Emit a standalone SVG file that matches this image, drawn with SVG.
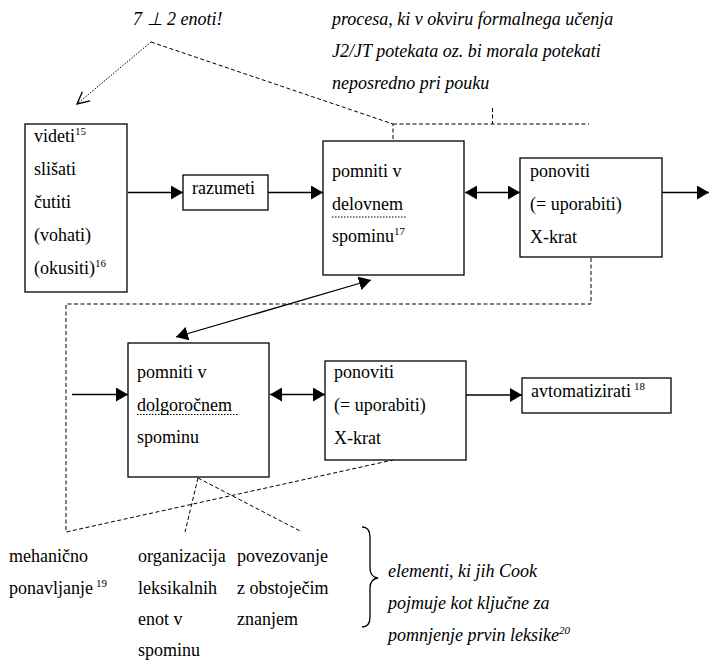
<svg xmlns="http://www.w3.org/2000/svg" width="709" height="663" viewBox="0 0 709 663" font-family="Liberation Serif, Times New Roman, Times, serif">
<style>
text{font-size:18px;fill:#000}
.it{font-style:italic}
.sup{font-size:11px}
.box{fill:#fff;stroke:#000;stroke-width:1.3}
.ln{fill:none;stroke:#000;stroke-width:1.3}
.dash{fill:none;stroke:#000;stroke-width:1;stroke-dasharray:4 2.5}
.dot{fill:none;stroke:#000;stroke-width:1;stroke-dasharray:1.5 1.5}
.ul{fill:none;stroke:#000;stroke-width:1;stroke-dasharray:1.5 1.5}
</style>
<defs>
<marker id="ah" markerWidth="12" markerHeight="14" refX="12" refY="7" orient="auto-start-reverse" markerUnits="userSpaceOnUse">
<path d="M0,0 L12,7 L0,14 Z" fill="#000"/>
</marker>
<marker id="oh" markerWidth="14" markerHeight="14" refX="13" refY="7" orient="auto" markerUnits="userSpaceOnUse">
<path d="M1,1 L13,7 L1,13" fill="none" stroke="#000" stroke-width="1.3"/>
</marker>
</defs>

<g id="connectors">
<line class="ln" x1="128" y1="192.5" x2="183" y2="192.5" marker-end="url(#ah)"/>
<line class="ln" x1="268" y1="192.5" x2="323" y2="192.5" marker-end="url(#ah)"/>
<line class="ln" x1="465" y1="192.5" x2="520" y2="192.5" marker-start="url(#ah)" marker-end="url(#ah)"/>
<line class="ln" x1="662" y1="192.5" x2="709" y2="192.5" marker-end="url(#ah)"/>
<line class="ln" x1="176" y1="337" x2="371" y2="280" marker-start="url(#ah)" marker-end="url(#ah)"/>
<line class="ln" x1="72" y1="394.5" x2="128" y2="394.5" marker-end="url(#ah)"/>
<line class="ln" x1="270" y1="394.5" x2="325" y2="394.5" marker-start="url(#ah)" marker-end="url(#ah)"/>
<line class="ln" x1="466" y1="395" x2="522" y2="395" marker-end="url(#ah)"/>
<line class="dot" x1="151" y1="42" x2="77" y2="104" marker-end="url(#oh)"/>
<polyline class="dash" points="151,42 393,124 393,141"/>
<line class="dash" x1="393" y1="124" x2="589" y2="124"/>
<line class="dash" x1="492.5" y1="108" x2="492.5" y2="124"/>
<polyline class="dash" points="591,258 591,304 66,304 66,532 393,460"/>
<line class="dash" x1="198" y1="478" x2="185" y2="532"/>
<line class="dash" x1="198" y1="478" x2="302" y2="532"/>
<path class="ln" stroke-width="1" d="M362,527 Q370,527 370,537 L370,568 Q370,577 378,578 Q370,579 370,588 L370,617 Q370,627 362,627"/>
</g>

<g id="n-senses">
<rect class="box" x="25" y="124" width="102" height="168"/>
<text x="34" y="142">videti<tspan class="sup" dy="-7">15</tspan></text>
<text x="34" y="175">slišati</text>
<text x="34" y="208">čutiti</text>
<text x="34" y="241">(vohati)</text>
<text x="34" y="274">(okusiti)<tspan class="sup" dy="-7">16</tspan></text>
</g>

<g id="n-razumeti">
<rect class="box" x="183" y="175" width="85" height="35"/>
<text x="192" y="194">razumeti</text>
</g>

<g id="n-delovnem">
<rect class="box" x="323" y="141" width="141" height="134"/>
<text x="332" y="177">pomniti v</text>
<text x="332" y="210">delovnem</text>
<line class="ul" x1="332" y1="217" x2="407" y2="217"/>
<text x="332" y="242">spominu<tspan class="sup" dy="-7">17</tspan></text>
</g>

<g id="n-ponoviti1">
<rect class="box" x="520" y="158" width="142" height="99"/>
<text x="530" y="177">ponoviti</text>
<text x="530" y="210">(= uporabiti)</text>
<text x="530" y="243">X-krat</text>
</g>

<g id="n-dolgorocnem">
<rect class="box" x="128" y="343" width="141" height="134"/>
<text x="137" y="378">pomniti v</text>
<text x="137" y="411">dolgoročnem</text>
<line class="ul" x1="137" y1="414.5" x2="238" y2="414.5"/>
<text x="137" y="443">spominu</text>
</g>

<g id="n-ponoviti2">
<rect class="box" x="325" y="361" width="141" height="99"/>
<text x="334" y="378">ponoviti</text>
<text x="334" y="411">(= uporabiti)</text>
<text x="334" y="444">X-krat</text>
</g>

<g id="n-avtomatizirati">
<rect class="box" x="522" y="378" width="149" height="35"/>
<text x="531" y="397">avtomatizirati<tspan class="sup" dx="3" dy="-7">18</tspan></text>
</g>

<g id="n-top-note">
<text class="it" x="133" y="25">7 ⊥ 2 enoti!</text>
<text class="it" x="332" y="25">procesa, ki v okviru formalnega učenja</text>
<text class="it" x="332" y="57">J2/JT potekata oz. bi morala potekati</text>
<text class="it" x="332" y="89">neposredno pri pouku</text>
</g>

<g id="n-mehanicno">
<text x="9" y="562">mehanično</text>
<text x="9" y="594">ponavljanje<tspan class="sup" dx="3" dy="-7">19</tspan></text>
</g>

<g id="n-organizacija">
<text x="138" y="562">organizacija</text>
<text x="138" y="594">leksikalnih</text>
<text x="138" y="625">enot v</text>
<text x="138" y="656">spominu</text>
</g>

<g id="n-povezovanje">
<text x="237" y="562">povezovanje</text>
<text x="237" y="594">z obstoječim</text>
<text x="237" y="625">znanjem</text>
</g>

<g id="n-cook">
<text class="it" x="388" y="577">elementi, ki jih Cook</text>
<text class="it" x="388" y="609">pojmuje kot ključne za</text>
<text class="it" x="388" y="641">pomnjenje prvin leksike<tspan class="sup" dy="-7">20</tspan></text>
</g>
</svg>
